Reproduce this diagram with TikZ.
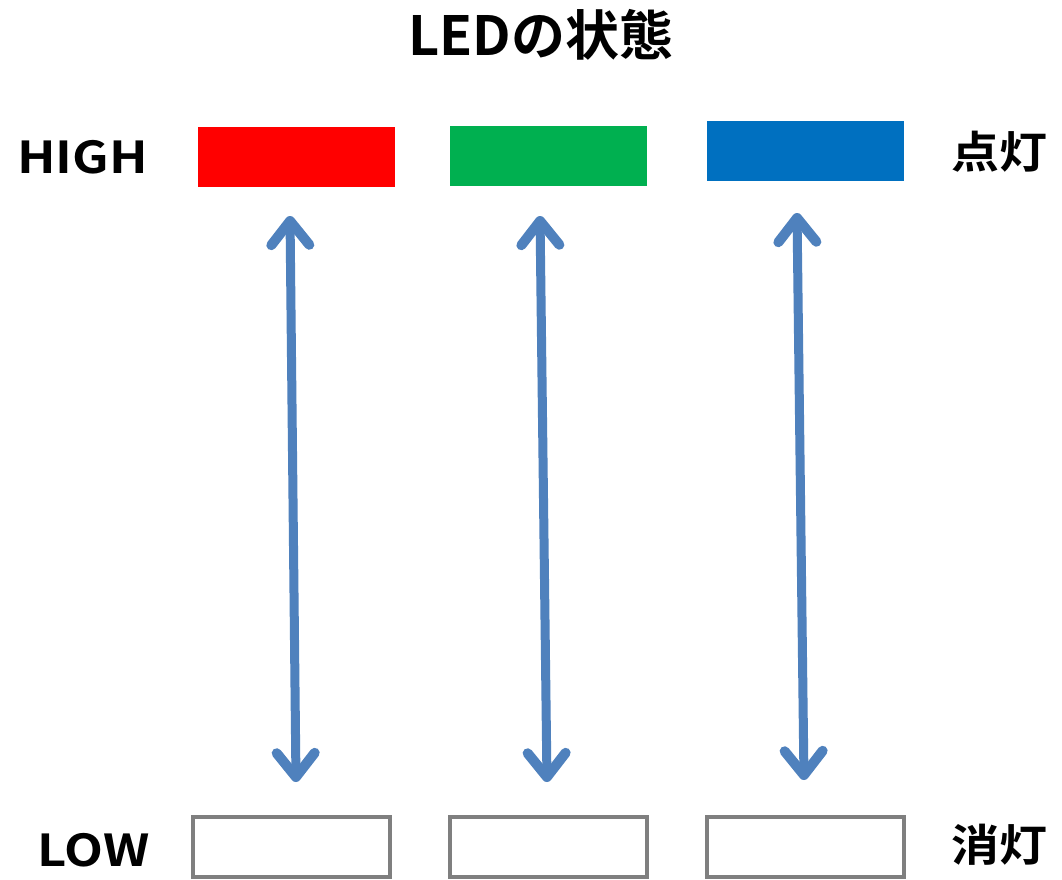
\documentclass[tikz,border=0pt]{standalone}
\usepackage{fontspec}
\newfontfamily\jp{Noto Sans CJK JP Bold}
\usetikzlibrary{arrows.meta}
\definecolor{ledred}{HTML}{FF0000}
\definecolor{ledgreen}{HTML}{00B050}
\definecolor{ledblue}{HTML}{0070C0}
\definecolor{arrowblue}{HTML}{4F81BD}
\definecolor{offgray}{HTML}{7F7F7F}
\tikzset{
  onbox/.style={inner sep=0pt, minimum width=197pt, minimum height=60pt},
  offbox/.style={draw=offgray, line width=4pt, inner sep=0pt, minimum width=197pt, minimum height=60pt, fill=white},
  lbl/.style={font=\jp\fontsize{44}{50}\selectfont, inner sep=0pt},
  link/.style={draw=arrowblue, line width=9pt, line cap=round,
    >={Straight Barb[length=24pt,width=38pt,line width=10pt,round]}, <->},
}
\begin{document}
\begin{tikzpicture}[x=1pt,y=-1pt]
\useasboundingbox (0,0) rectangle (1062,879);
\fill[white] (0,0) rectangle (1062,879);
\node[lbl, font=\jp\fontsize{54}{60}\selectfont] (title) at (541,35) {LEDの状態};
\node[lbl, anchor=west, xscale=1.16] (high) at (17,157) {HIGH};
\node[lbl, anchor=west, xscale=1.15] (low) at (37,850) {LOW};
\node[lbl, anchor=west, xscale=1.09] (on) at (951,152) {点灯};
\node[lbl, anchor=west, xscale=1.09] (off) at (951,845) {消灯};
\node[onbox, fill=ledred] (r) at (296.5,157) {};
\node[onbox, fill=ledgreen] (g) at (548.5,156) {};
\node[onbox, fill=ledblue] (b) at (805.5,151) {};
\node[offbox] (r0) at (291.5,847) {};
\node[offbox] (g0) at (548.5,847) {};
\node[offbox] (b0) at (805.5,847) {};
\coordinate (rt) at (290,216);
\coordinate (rb) at (296,782);
\coordinate (gt) at (540,216);
\coordinate (gb) at (547,782);
\coordinate (bt) at (797,213);
\coordinate (bb) at (804,780);
\draw[link] (rt) -- (rb);
\draw[link] (gt) -- (gb);
\draw[link] (bt) -- (bb);
\end{tikzpicture}
\end{document}
